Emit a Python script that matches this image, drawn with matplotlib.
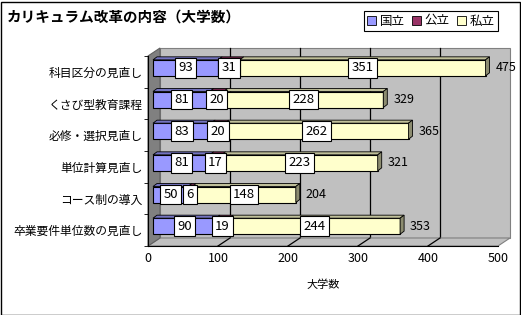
import numpy as np
import matplotlib
matplotlib.use('Agg')
import matplotlib.pyplot as plt
from matplotlib.patches import Rectangle, Polygon, Patch

plt.rcParams['font.family'] = ['Noto Sans CJK JP', 'DejaVu Sans']

title = 'カリキュラム改革の内容（大学数）'
categories = ['科目区分の見直し', 'くさび型教育課程', '必修・選択見直し',
              '単位計算見直し', 'コース制の導入', '卒業要件単位数の見直し']
series = ['国立', '公立', '私立']
kokuritsu = [93, 81, 83, 81, 50, 90]
kouritsu = [31, 20, 20, 17, 6, 19]
shiritsu = [351, 228, 262, 223, 148, 244]
totals = [475, 329, 365, 321, 204, 353]
colors = ['#9999FF', '#993366', '#FFFFCC']
xticks = [0, 100, 200, 300, 400, 500]

W, H = 521, 315
fig = plt.figure(figsize=(W / 100, H / 100), dpi=100)
fig.patch.set_facecolor('white')
fig.patches.append(Rectangle((0.5 / W, 0.5 / H), 1 - 2 / W, 1 - 2 / H, transform=fig.transFigure,
                             fill=False, ec='black', lw=1))

# front plane of the 3d box, in pixels
x0, x1, y0, y1 = 148, 498, 56, 246
ax = fig.add_axes([x0 / W, (H - y1) / H, (x1 - x0) / W, (y1 - y0) / H])
ax.set_xlim(0, 500)
ax.set_ylim(5.5, -0.5)
ax.patch.set_visible(False)
PX = 500 / (x1 - x0)   # data units per pixel
PY = 6 / (y1 - y0)

# walls
dx, dy = 12 * PX, 8 * PY
gray = '#C0C0C0'
ax.add_patch(Rectangle((dx, -0.5 - dy), 500, 6, fc=gray, ec='#808080', lw=0.8, clip_on=False, zorder=0))
ax.add_patch(Polygon([(0, 5.5), (500, 5.5), (500 + dx, 5.5 - dy), (dx, 5.5 - dy)],
                     fc=gray, ec='#808080', lw=0.8, clip_on=False, zorder=0.5))
ax.add_patch(Polygon([(0, -0.5), (dx, -0.5 - dy), (dx, 5.5 - dy), (0, 5.5)],
                     fc='#808080', ec='#606060', lw=0.8, clip_on=False, zorder=0.6))
for v in xticks[1:-1]:
    ax.plot([v + dx, v + dx], [-0.5 - dy, 5.5 - dy], color='black', lw=0.9, zorder=0.4, clip_on=False)
    ax.plot([v, v + dx], [5.5, 5.5 - dy], color='black', lw=0.9, zorder=0.7, clip_on=False)

# bars
ox, oy = 5 * PX, 4 * PY
bh = 16 * PY
tx, ty = 4 * PX, 3 * PY
data = [kokuritsu, kouritsu, shiritsu]


def shade(c, f):
    rgb = np.array(matplotlib.colors.to_rgb(c))
    return tuple(rgb * f)


for i in range(len(categories)):
    yc = i - oy
    ytop, ybot = yc - bh / 2, yc + bh / 2
    left = ox
    for k, vals in enumerate(data):
        v = vals[i]
        ax.add_patch(Rectangle((left, ytop), v, bh, fc=colors[k], ec='black', lw=0.8, zorder=2))
        ax.add_patch(Polygon([(left, ytop), (left + tx, ytop - ty), (left + v + tx, ytop - ty), (left + v, ytop)],
                             fc=shade(colors[k], 0.75), ec='black', lw=0.6, zorder=2))
        ax.text(left + v / 2, yc, str(v), ha='center', va='center', fontsize=9.5, zorder=4,
                bbox=dict(boxstyle='square,pad=0.25', fc='white', ec='black', lw=0.8))
        left += v
    ax.add_patch(Polygon([(left, ytop), (left + tx, ytop - ty), (left + tx, ybot - ty), (left, ybot)],
                         fc=shade(colors[2], 0.55), ec='black', lw=0.6, zorder=2))
    ax.text(totals[i] + ox + 10 * PX, yc, str(totals[i]), ha='left', va='center', fontsize=9, zorder=4)

ax.spines['top'].set_visible(False)
ax.spines['right'].set_visible(False)
ax.spines['left'].set_zorder(3)
ax.spines['bottom'].set_zorder(3)
ax.set_xticks(xticks)
ax.tick_params(axis='x', length=0, pad=4, labelsize=9)
ax.set_yticks(range(len(categories)))
ax.set_yticklabels(categories, fontsize=8.5)
ax.tick_params(axis='y', length=0, pad=4)
ax.set_yticks(np.arange(-0.5, 6, 1), minor=True)
ax.tick_params(axis='y', which='minor', length=3, direction='out')
ax.set_xlabel('大学数', fontsize=8, labelpad=11)

fig.text(7 / W, 1 - 17 / H, title, fontsize=10.5, fontweight='bold', va='center', ha='left')

handles = [Patch(fc=c, ec='black', lw=0.6) for c in colors]
leg = fig.legend(handles, series, loc='center', bbox_to_anchor=(431 / W, 1 - 21 / H), ncol=3,
                 fontsize=9, frameon=True, fancybox=False, edgecolor='black', framealpha=1,
                 handlelength=0.7, handleheight=0.7, handletextpad=0.3, columnspacing=0.6,
                 borderpad=0.25)
leg.get_frame().set_linewidth(0.8)

fig.savefig('out.png', dpi=100)
